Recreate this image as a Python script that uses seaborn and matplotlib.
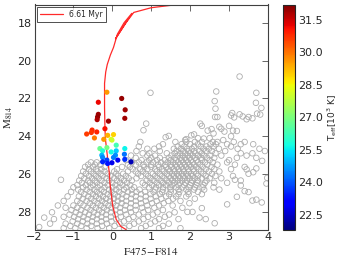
import numpy as np
import pandas as pd
import matplotlib
matplotlib.use("Agg")
import matplotlib.pyplot as plt
import seaborn as sns

# ---------------- data ----------------
# isochrone (6.61 Myr)
iso_color = [0.35, 0.22, 0.10, 0.01, -0.03, -0.06, -0.08, -0.13, -0.18, -0.19, -0.20, -0.20,
             -0.17, -0.13, -0.05, 0.03, 0.13, 0.30, 0.50, 0.08, 0.35, 0.55, 1.00, 1.60, 2.20]
iso_mag = [28.93, 28.77, 28.40, 27.70, 27.00, 26.50, 25.90, 25.00, 24.10, 23.50, 22.50, 21.20,
           20.60, 20.20, 19.70, 19.30, 18.60, 18.00, 17.50, 18.85, 18.00, 17.45, 17.20, 17.05, 16.95]

# stars with Teff
hot_color = [0.24, 0.33, -0.36, -0.38, -0.39, 0.32, -0.10, -0.36, -0.19, -0.52, -0.40, -0.54,
             -0.66, -0.14, -0.46, -0.12, 0.03, -0.22, -0.03, -0.01, -0.32, -0.14, 0.10, 0.32,
             -0.25, -0.03, 0.10, 0.31, -0.27, 0.08, -0.25, 0.03, -0.14, -0.25, -0.01, 0.14,
             0.32, 0.48, -0.12]
hot_mag = [22.00, 22.60, 22.84, 22.98, 23.12, 23.05, 23.20, 22.20, 23.60, 23.67, 23.77, 23.80,
           23.88, 21.67, 24.09, 23.95, 23.91, 24.16, 24.16, 24.20, 24.65, 24.60, 24.47, 24.65,
           24.77, 24.83, 24.77, 24.95, 25.00, 25.00, 25.12, 25.12, 25.26, 25.35, 25.40, 25.26,
           25.22, 25.35, 25.44]
hot_teff = [32.0, 31.9, 31.9, 32.0, 31.8, 31.9, 31.9, 31.2, 31.1, 30.8, 30.9, 30.7,
            30.6, 29.6, 29.9, 29.3, 29.0, 29.6, 28.3, 28.0, 26.8, 26.9, 26.3, 25.6,
            25.9, 25.7, 25.2, 24.3, 25.0, 24.6, 24.5, 24.4, 23.8, 23.5, 22.8, 22.9,
            23.6, 22.3, 23.3]

# field stars: sparse upper/right part
field_sparse_color = [3.27, 0.98, 2.67, 3.70, 2.63, 3.69, 2.65, 3.83, 2.64, 2.70, 3.08, 3.05,
                      3.13, 3.27, 3.35, 3.45, 3.50, 3.60, 3.72, 3.80, 0.87, 2.26, 2.30, 0.80,
                      2.75, 2.80, 2.88, 3.00, 3.10, 3.20, 2.45, 2.55, 2.60, 2.03, 2.10, 1.37,
                      1.45, 1.90, 1.87, 2.20, 2.35, 2.50, 2.85, 3.05,
                      1.93, 2.63, 2.06, 2.24, 2.30, 3.84, 3.60, 3.70, 3.40, 3.50, 3.98, 3.96,
                      3.45, 3.62, 3.70, 3.85, 3.60, 3.30, 3.20, 2.95, 3.15, -1.32, -1.75, -1.88]
field_sparse_mag = [20.84, 21.70, 21.63, 21.70, 22.14, 22.23, 22.54, 22.50, 22.98, 22.98, 22.77,
                    22.90, 23.00, 22.84, 22.95, 23.10, 22.98, 23.05, 22.80, 22.85, 23.33, 23.33,
                    23.45, 23.68, 23.50, 23.60, 23.75, 23.45, 23.70, 23.72, 23.70, 23.62, 23.85,
                    23.95, 23.90, 24.05, 23.98, 24.15, 24.20, 24.10, 24.12, 24.10, 24.20, 24.00,
                    28.00, 28.60, 28.00, 28.30, 27.80, 27.50, 27.40, 27.35, 26.90, 26.95, 26.20,
                    26.50, 25.75, 25.90, 25.70, 25.30, 24.90, 26.60, 27.20, 27.60, 26.30, 26.30,
                    28.30, 28.80]

# field stars: dense part, listed by magnitude rows
field_row_mag = [24.30, 24.42, 24.54, 24.66, 24.78, 24.90, 25.02, 25.14, 25.26, 25.38, 25.50,
                 25.62, 25.74, 25.86, 25.98, 26.10, 26.22, 26.34, 26.46, 26.58, 26.70, 26.82,
                 26.94, 27.06, 27.18, 27.30, 27.42, 27.54, 27.66, 27.78, 27.90, 28.02, 28.14,
                 28.26, 28.38, 28.50, 28.62, 28.74, 28.86]
field_row_color = [
    [0.72, 1.62, 1.9, 2.12, 2.3, 2.58, 2.7, 3.12, 3.4],
    [1.3, 1.78, 2.0, 2.2, 2.52, 2.66, 2.95, 3.3, 3.62],
    [0.68, 1.2, 1.68, 1.85, 2.1, 2.27, 2.42, 2.6, 3.05],
    [0.9, 1.08, 1.58, 1.76, 1.92, 2.04, 2.34, 2.48, 2.74, 3.22, 3.78],
    [0.62, 1.22, 1.65, 1.82, 1.96, 2.1, 2.24, 2.4, 2.56, 2.9, 3.92],
    [0.78, 0.95, 1.4, 1.6, 1.74, 1.88, 2.0, 2.14, 2.3, 2.65, 3.3],
    [0.48, 0.9, 1.1, 1.52, 1.68, 1.8, 1.94, 2.06, 2.2, 2.36, 2.52, 2.8, 3.45],
    [0.6, 1.0, 1.22, 1.45, 1.6, 1.75, 1.86, 1.98, 2.12, 2.28, 2.44, 2.62, 3.2, 3.7],
    [0.35, 0.75, 0.95, 1.15, 1.35, 1.5, 1.64, 1.78, 1.9, 2.02, 2.16, 2.3, 2.5, 3.0],
    [-0.55, -0.4, 0.5, 0.68, 0.88, 1.05, 1.25, 1.42, 1.56, 1.7, 1.82, 1.94, 2.06, 2.2, 2.38, 2.58, 2.95],
    [-0.62, -0.45, -0.3, 0.4, 0.6, 0.8, 1.0, 1.18, 1.36, 1.5, 1.62, 1.74, 1.86, 1.98, 2.1, 2.26, 2.44, 2.7, 3.15],
    [-0.7, -0.5, -0.2, 0.25, 0.45, 0.82, 1.0, 1.2, 1.38, 1.52, 1.66, 1.78, 1.9, 2.02, 2.16, 2.32, 2.55, 3.4],
    [-0.6, -0.42, -0.28, 0.12, 0.52, 0.72, 0.9, 1.1, 1.28, 1.44, 1.58, 1.7, 1.82, 1.95, 2.08, 2.22, 2.4, 2.62, 3.05],
    [-0.75, -0.55, -0.38, -0.2, 0.05, 0.4, 0.6, 0.78, 1.14, 1.32, 1.48, 1.6, 1.72, 1.84, 1.96, 2.1, 2.28, 2.48, 2.75],
    [-0.68, -0.48, -0.3, -0.12, 0.1, 0.28, 0.66, 0.86, 1.04, 1.22, 1.4, 1.54, 1.66, 1.78, 1.9, 2.02, 2.16, 2.34, 2.56, 3.5],
    [-0.8, -0.6, -0.42, -0.25, -0.05, 0.15, 0.35, 0.74, 0.92, 1.1, 1.28, 1.45, 1.58, 1.7, 1.82, 1.94, 2.06, 2.2, 2.4, 2.65, 3.1],
    [-0.72, -0.52, -0.35, -0.15, 0.05, 0.22, 0.42, 0.62, 0.98, 1.16, 1.34, 1.5, 1.62, 1.74, 1.86, 1.98, 2.12, 2.3, 2.5, 2.8],
    [-0.85, -0.62, -0.45, -0.28, -0.08, 0.12, 0.3, 0.5, 0.88, 1.06, 1.24, 1.4, 1.55, 1.68, 1.8, 1.92, 2.05, 2.2, 2.42, 3.3],
    [-0.78, -0.58, -0.4, -0.2, 0.0, 0.2, 0.38, 0.78, 0.96, 1.14, 1.3, 1.46, 1.6, 1.74, 1.88, 2.02, 2.18, 2.38, 2.62, 2.95],
    [-0.9, -0.68, -0.5, -0.32, -0.12, 0.08, 0.26, 0.46, 0.84, 1.02, 1.2, 1.38, 1.54, 1.7, 1.85, 2.0, 2.16, 2.34],
    [-1.0, -0.75, -0.56, -0.38, -0.2, 0.0, 0.18, 0.36, 0.56, 0.94, 1.12, 1.3, 1.48, 1.64, 1.8, 1.96, 2.12, 2.32, 2.6],
    [-0.88, -0.66, -0.46, -0.28, -0.08, 0.1, 0.3, 0.5, 0.7, 1.1, 1.3, 1.5, 1.7, 1.9, 2.1, 2.36, 2.75],
    [-1.06, -0.8, -0.58, -0.4, -0.22, -0.02, 0.18, 0.4, 0.62, 0.84, 1.06, 1.28, 1.5, 1.72, 1.95, 2.2],
    [-0.72, -0.5, -0.32, -0.12, 0.06, 0.26, 0.5, 0.74, 0.98, 1.22, 1.46, 1.7, 1.96, 2.3],
    [-1.15, -0.86, -0.62, -0.42, -0.24, -0.05, 0.14, 0.36, 0.6, 0.86, 1.12, 1.38, 1.64, 1.9],
    [-0.76, -0.54, -0.34, -0.16, 0.04, 0.24, 0.48, 0.72, 0.98, 1.26, 1.56, 2.12],
    [-1.25, -0.9, -0.66, -0.46, -0.26, -0.06, 0.14, 0.36, 0.6, 0.86, 1.14, 1.44, 1.75],
    [-0.82, -0.58, -0.38, -0.18, 0.02, 0.24, 0.48, 0.74, 1.02, 1.32, 1.98],
    [-1.4, -1.0, -0.74, -0.5, -0.3, -0.1, 0.1, 0.34, 0.6, 0.9, 1.2, 1.55],
    [-1.2, -0.9, -0.64, -0.42, -0.22, -0.02, 0.2, 0.46, 0.76, 1.08, 1.8],
    [-1.05, -0.8, -0.56, -0.34, -0.14, 0.08, 0.32, 0.6, 0.92, 1.3],
    [-1.55, -0.94, -0.7, -0.48, -0.26, -0.04, 0.2, 0.48, 0.8, 1.16, 1.6],
    [-1.1, -0.84, -0.6, -0.38, -0.16, 0.08, 0.36, 0.68, 1.04, 1.46],
    [-1.25, -0.98, -0.74, -0.5, -0.28, -0.04, 0.22, 0.54, 0.92, 1.35],
    [-1.5, -0.88, -0.64, -0.4, -0.16, 0.1, 0.42, 0.8, 1.2, 1.7, 2.4],
    [-1.02, -0.76, -0.52, -0.28, -0.02, 0.3, 0.68, 1.1],
    [-1.6, -1.2, -0.9, -0.64, -0.4, -0.14, 0.18, 0.56, 0.98, 1.45],
    [-1.08, -0.8, -0.54, -0.26, 0.06, 0.44, 0.86, 1.3],
    [-1.25, -0.95, -0.66, -0.38, -0.08, 0.3, 0.74, 1.2, 1.75],
]

iso_label = "6.61 Myr"
teff_ticks = [22.5, 24.0, 25.5, 27.0, 28.5, 30.0, 31.5]
x_ticks = [-2, -1, 0, 1, 2, 3, 4]
y_ticks = [18, 20, 22, 24, 26, 28]

# ---------------- tables ----------------
fx, fy = [], []
for m, row in zip(field_row_mag, field_row_color):
    fx.extend(row)
    fy.extend([m] * len(row))
fx.extend(field_sparse_color)
fy.extend(field_sparse_mag)
field = pd.DataFrame({"color": fx, "mag": fy})
hot = pd.DataFrame({"color": hot_color, "mag": hot_mag, "teff": hot_teff})
iso = pd.DataFrame({"color": iso_color, "mag": iso_mag})

# ---------------- figure ----------------
sns.set_theme(style="white")
plt.rcParams["font.family"] = ["DejaVu Sans"]
plt.rcParams["xtick.direction"] = "in"
plt.rcParams["ytick.direction"] = "in"

W, H = 349, 263
fig = plt.figure(figsize=(W / 100, H / 100), dpi=100)
ax = fig.add_axes([34.5 / W, 1 - 229.5 / H, 233.5 / W, 225 / H])
cax = fig.add_axes([283 / W, 1 - 229.5 / H, 12 / W, 225 / H])

vmin, vmax = 21.81, 32.21
jet = matplotlib.colormaps["jet"]

sns.scatterplot(data=field, x="color", y="mag", ax=ax, marker="o", s=16,
                facecolors="none", edgecolor="0.68", linewidth=0.6, legend=False, zorder=1)
sns.lineplot(data=iso, x="color", y="mag", ax=ax, sort=False, estimator=None,
             color="#ff2a2a", linewidth=0.9, label=iso_label, zorder=2)
sns.scatterplot(data=hot, x="color", y="mag", hue="teff", palette=jet,
                hue_norm=(vmin, vmax), ax=ax, s=14, linewidth=0, legend=False, zorder=3)

ax.set_xlim(-2, 4)
ax.set_ylim(28.93, 17.03)
ax.set_xticks(x_ticks)
ax.set_yticks(y_ticks)
ax.set_xticklabels(["\u22122", "\u22121", "0", "1", "2", "3", "4"])
ax.tick_params(axis="both", which="major", direction="in", length=4, width=0.6,
               top=True, right=True, labelsize=8, pad=2, color="0.3")
for sp in ax.spines.values():
    sp.set_color("0.25")
    sp.set_linewidth(0.8)
ax.set_xlabel(r"$\mathrm{F475\!-\!F814}$", fontsize=8, math_fontfamily="stix", labelpad=2)
ax.set_ylabel(r"$\mathrm{M}_{814}$", fontsize=8, math_fontfamily="stix", labelpad=2)

leg = ax.legend(loc="upper left", fontsize=5.5, frameon=True, fancybox=False,
                edgecolor="black", handlelength=3, borderpad=0.4,
                borderaxespad=0.3)
leg.get_frame().set_linewidth(0.6)

sm = matplotlib.cm.ScalarMappable(norm=matplotlib.colors.Normalize(vmin, vmax), cmap=jet)
cb = fig.colorbar(sm, cax=cax, ticks=teff_ticks)
cb.ax.tick_params(direction="in", length=3, width=0.6, labelsize=8, pad=2)
cb.outline.set_linewidth(0.8)
cb.set_label(r"T$_{\rm eff}$[10$^3$ K]", fontsize=6.5, math_fontfamily="dejavusans", labelpad=2)

fig.savefig("out.png", dpi=100)
